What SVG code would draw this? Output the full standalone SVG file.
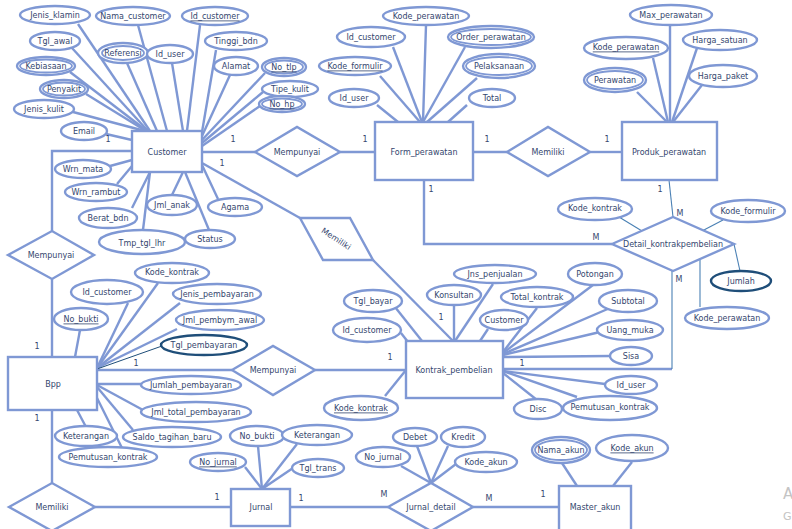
<svg xmlns="http://www.w3.org/2000/svg" width="792" height="529" viewBox="0 0 792 529">
<style>
.e{fill:#fff;stroke:#7f98d4;stroke-width:2.4}
.e2{fill:none;stroke:#7f98d4;stroke-width:1.8}
.k{fill:#fff;stroke:#1f4e79;stroke-width:2.4}
.t{font-family:"DejaVu Sans",Verdana,sans-serif;font-size:8px;fill:#34466e;text-anchor:middle;dominant-baseline:central}
.u{text-decoration:underline}
.n{font-family:"DejaVu Sans",Verdana,sans-serif;font-size:8px;fill:#34466e;text-anchor:middle;dominant-baseline:central}
.l{stroke:#7f98d4;stroke-width:2.4;fill:none}
.th{stroke:#4a80b4;stroke-width:1.1;fill:none}
.dk{stroke:#1f4e79;stroke-width:1;fill:none}
</style>
<rect width="792" height="529" fill="#fff"/>
<g id="connectors">
<g class="l">
<line x1="78" y1="24" x2="150" y2="131"/>
<line x1="72" y1="48" x2="148" y2="131"/>
<line x1="70" y1="72" x2="147" y2="131"/>
<line x1="86" y1="94" x2="146" y2="131"/>
<line x1="73" y1="112" x2="145" y2="131"/>
<line x1="106" y1="134" x2="132" y2="140"/>
<line x1="138" y1="25" x2="167" y2="131"/>
<line x1="127" y1="63" x2="157" y2="131"/>
<line x1="172" y1="63" x2="183" y2="131"/>
<line x1="200" y1="25" x2="187" y2="131"/>
<line x1="216" y1="50" x2="202" y2="132"/>
<line x1="230" y1="75" x2="202" y2="136"/>
<line x1="265" y1="73" x2="202" y2="140"/>
<line x1="263" y1="92" x2="202" y2="143"/>
<line x1="260" y1="106" x2="202" y2="146"/>
<line x1="110" y1="166" x2="132" y2="160"/>
<line x1="117" y1="184" x2="132" y2="166"/>
<line x1="132" y1="208" x2="150" y2="172"/>
<line x1="143" y1="230" x2="150" y2="172"/>
<line x1="172" y1="195" x2="183" y2="172"/>
<line x1="209" y1="230" x2="185" y2="172"/>
<line x1="218" y1="199" x2="202" y2="165"/>
<line x1="202" y1="152" x2="255" y2="152"/>
<line x1="340" y1="152" x2="375" y2="152"/>
<line x1="202" y1="163" x2="300" y2="218"/>
<line x1="373" y1="260" x2="453" y2="341"/>
<polyline points="132,151 52,151 52,231"/>
<line x1="52" y1="279" x2="52" y2="357"/>
<line x1="426" y1="25" x2="423" y2="122"/>
<line x1="393" y1="47" x2="422" y2="122"/>
<line x1="380" y1="76" x2="420" y2="122"/>
<line x1="377" y1="105" x2="398" y2="122"/>
<line x1="465" y1="47" x2="423" y2="122"/>
<line x1="477" y1="78" x2="427" y2="122"/>
<line x1="467" y1="105" x2="448" y2="122"/>
<line x1="473" y1="152" x2="507" y2="152"/>
<line x1="590" y1="152" x2="622" y2="152"/>
<polyline points="424,180 424,244 612,244"/>
<line x1="670" y1="25" x2="670" y2="122"/>
<line x1="653" y1="58" x2="668" y2="122"/>
<line x1="697" y1="48" x2="672" y2="122"/>
<line x1="637" y1="92" x2="667" y2="122"/>
<line x1="702" y1="85" x2="673" y2="122"/>
<line x1="503" y1="369" x2="672" y2="369"/>
<line x1="493" y1="284" x2="455" y2="341"/>
<line x1="454" y1="305" x2="454" y2="341"/>
<line x1="537" y1="308" x2="503" y2="352"/>
<line x1="488" y1="329" x2="480" y2="341"/>
<line x1="593" y1="285" x2="503" y2="353"/>
<line x1="610" y1="308" x2="503" y2="354"/>
<line x1="600" y1="332" x2="503" y2="355"/>
<line x1="610" y1="356" x2="503" y2="357"/>
<line x1="605" y1="384" x2="503" y2="371"/>
<line x1="577" y1="397" x2="503" y2="371"/>
<line x1="537" y1="400" x2="503" y2="373"/>
<line x1="395" y1="307" x2="422" y2="341"/>
<line x1="401" y1="333" x2="408" y2="342"/>
<line x1="385" y1="396" x2="406" y2="370"/>
<line x1="315" y1="370" x2="406" y2="370"/>
<line x1="97" y1="370" x2="232" y2="370"/>
<line x1="158" y1="283" x2="97" y2="368"/>
<line x1="128" y1="303" x2="97" y2="368"/>
<line x1="80" y1="330" x2="75" y2="357"/>
<line x1="180" y1="303" x2="97" y2="368"/>
<line x1="177" y1="329" x2="97" y2="368"/>
<line x1="97" y1="384" x2="141" y2="384"/>
<line x1="97" y1="385" x2="143" y2="410"/>
<line x1="97" y1="387" x2="133" y2="430"/>
<line x1="97" y1="398" x2="122" y2="448"/>
<line x1="77" y1="410" x2="86" y2="427"/>
<line x1="52" y1="410" x2="52" y2="483"/>
<line x1="95" y1="507" x2="231" y2="507"/>
<line x1="258" y1="446" x2="262" y2="489"/>
<line x1="245" y1="467" x2="262" y2="489"/>
<line x1="297" y1="444" x2="262" y2="489"/>
<line x1="293" y1="468" x2="262" y2="489"/>
<line x1="290" y1="507" x2="388" y2="507"/>
<line x1="417" y1="446" x2="431" y2="483"/>
<line x1="448" y1="446" x2="431" y2="483"/>
<line x1="401" y1="466" x2="431" y2="483"/>
<line x1="456" y1="464" x2="431" y2="483"/>
<line x1="473" y1="507" x2="559" y2="507"/>
<line x1="562" y1="463" x2="577" y2="486"/>
<line x1="632" y1="462" x2="613" y2="486"/>
</g>
<g class="th">
<line x1="669" y1="180" x2="673" y2="217"/>
<line x1="619" y1="217" x2="642" y2="231"/>
<line x1="723" y1="220" x2="702" y2="231"/>
<line x1="734" y1="244" x2="740" y2="271"/>
<line x1="700" y1="257" x2="700" y2="307"/>
<line x1="672" y1="271" x2="672" y2="369"/>
</g>
<line class="dk" x1="162" y1="346" x2="97" y2="369"/>
<g class="n">
<text x="108" y="139">1</text>
<text x="233" y="139">1</text>
<text x="222" y="163">1</text>
<text x="365" y="139">1</text>
<text x="487" y="139">1</text>
<text x="607" y="139">1</text>
<text x="660" y="189">1</text>
<text x="680" y="213">M</text>
<text x="596" y="237">M</text>
<text x="431" y="189">1</text>
<text x="679" y="279">M</text>
<text x="522" y="363">1</text>
<text x="441" y="317">1</text>
<text x="390" y="357">1</text>
<text x="136" y="363">1</text>
<text x="37" y="346">1</text>
<text x="37" y="418">1</text>
<text x="217" y="497">1</text>
<text x="301" y="498">1</text>
<text x="384" y="494">M</text>
<text x="489" y="498">M</text>
<text x="543" y="494">1</text>
</g>
</g>

<g id="customer"><rect class="e" x="132" y="131" width="70" height="41"/><text class="t" x="167" y="152">Customer</text></g>
<g id="form_perawatan"><rect class="e" x="375" y="122" width="98" height="58"/><text class="t" x="424" y="152">Form_perawatan</text></g>
<g id="produk_perawatan"><rect class="e" x="622" y="122" width="95" height="58"/><text class="t" x="669" y="152">Produk_perawatan</text></g>
<g id="kontrak_pembelian"><rect class="e" x="406" y="341" width="97" height="57"/><text class="t" x="454" y="370">Kontrak_pembelian</text></g>
<g id="bpp"><rect class="e" x="8" y="357" width="89" height="53"/><text class="t" x="53" y="384">Bpp</text></g>
<g id="jurnal"><rect class="e" x="231" y="489" width="59" height="37"/><text class="t" x="261" y="507">Jurnal</text></g>
<g id="master_akun"><rect class="e" x="559" y="486" width="72" height="50"/><text class="t" x="595" y="507">Master_akun</text></g>

<g id="rel_mempunyai_1"><polygon class="e" points="255,152 297,127 340,152 297,176"/><text class="t" x="297" y="152">Mempunyai</text></g>
<g id="rel_mempunyai_2"><polygon class="e" points="8,255 52,231 94,255 52,279"/><text class="t" x="51" y="255">Mempunyai</text></g>
<g id="rel_memiliki_1"><polygon class="e" points="507,152 548,127 590,152 548,176"/><text class="t" x="548" y="152">Memiliki</text></g>
<g id="rel_memiliki_2"><polygon class="e" points="300,218 350,218 373,260 323,260"/><text class="t" x="336" y="239" transform="rotate(33 336 239)">Memiliki</text></g>
<g id="rel_detail_kontrakpembelian"><polygon class="e" points="612,244 673,217 734,244 673,271"/><text class="t" x="673" y="244">Detail_kontrakpembelian</text></g>
<g id="rel_mempunyai_3"><polygon class="e" points="232,370 273,346 315,370 273,395"/><text class="t" x="273" y="370">Mempunyai</text></g>
<g id="rel_memiliki_3"><polygon class="e" points="9,507 52,483 95,507 52,531"/><text class="t" x="52" y="507">Memiliki</text></g>
<g id="rel_jurnal_detail"><polygon class="e" points="388,507 431,483 473,507 431,531"/><text class="t" x="431" y="507">Jurnal_detail</text></g>

<g id="attr_customer">
<g id="c_jenis_klamin"><ellipse class="e" cx="55" cy="15" rx="35" ry="9"/><text class="t" x="55" y="15">Jenis_klamin</text></g>
<g id="c_nama_customer"><ellipse class="e" cx="133" cy="16" rx="37" ry="9"/><text class="t" x="133" y="16">Nama_customer</text></g>
<g id="c_id_customer"><ellipse class="e" cx="215" cy="16" rx="33" ry="9"/><text class="t u" x="215" y="16">Id_customer</text></g>
<g id="c_tgl_awal"><ellipse class="e" cx="55" cy="41" rx="25" ry="9"/><text class="t" x="55" y="41">Tgl_awal</text></g>
<g id="c_referensi"><ellipse class="e" cx="123" cy="53" rx="25" ry="10"/><ellipse class="e2" cx="123" cy="53" rx="21" ry="7"/><text class="t" x="123" y="53">Referensi</text></g>
<g id="c_id_user"><ellipse class="e" cx="170" cy="54" rx="23" ry="9"/><text class="t" x="170" y="54">Id_user</text></g>
<g id="c_tinggi_bdn"><ellipse class="e" cx="236" cy="41" rx="31" ry="9"/><text class="t" x="236" y="41">Tinggi_bdn</text></g>
<g id="c_kebiasaan"><ellipse class="e" cx="46" cy="66" rx="29" ry="9"/><ellipse class="e2" cx="46" cy="66" rx="26" ry="6.5"/><text class="t" x="46" y="66">Kebiasaan</text></g>
<g id="c_alamat"><ellipse class="e" cx="236" cy="66" rx="22" ry="9"/><text class="t" x="236" y="66">Alamat</text></g>
<g id="c_no_tlp"><ellipse class="e" cx="284" cy="67" rx="22" ry="9"/><ellipse class="e2" cx="284" cy="67" rx="19" ry="6.5"/><text class="t u" x="284" y="67">No_tlp</text></g>
<g id="c_penyakit"><ellipse class="e" cx="64" cy="89" rx="24" ry="9"/><ellipse class="e2" cx="64" cy="89" rx="21" ry="6.5"/><text class="t" x="64" y="89">Penyakit</text></g>
<g id="c_tipe_kulit"><ellipse class="e" cx="290" cy="89" rx="28" ry="8"/><text class="t" x="290" y="89">Tipe_kulit</text></g>
<g id="c_no_hp"><ellipse class="e" cx="282" cy="104" rx="23" ry="8"/><ellipse class="e2" cx="282" cy="104" rx="20" ry="5.5"/><text class="t u" x="282" y="104">No_hp</text></g>
<g id="c_jenis_kulit"><ellipse class="e" cx="44" cy="109" rx="30" ry="9"/><text class="t" x="44" y="109">Jenis_kulit</text></g>
<g id="c_email"><ellipse class="e" cx="84" cy="131" rx="23" ry="9"/><text class="t" x="84" y="131">Email</text></g>
<g id="c_wrn_mata"><ellipse class="e" cx="83" cy="169" rx="28" ry="9"/><text class="t" x="83" y="169">Wrn_mata</text></g>
<g id="c_wrn_rambut"><ellipse class="e" cx="96" cy="192" rx="31" ry="9"/><text class="t" x="96" y="192">Wrn_rambut</text></g>
<g id="c_jml_anak"><ellipse class="e" cx="172" cy="205" rx="25" ry="10"/><text class="t" x="172" y="205">Jml_anak</text></g>
<g id="c_agama"><ellipse class="e" cx="235" cy="207" rx="27" ry="9"/><text class="t" x="235" y="207">Agama</text></g>
<g id="c_berat_bdn"><ellipse class="e" cx="108" cy="218" rx="29" ry="10"/><text class="t" x="108" y="218">Berat_bdn</text></g>
<g id="c_tmp_tgl_lhr"><ellipse class="e" cx="142" cy="242" rx="43" ry="12"/><text class="t" x="142" y="243">Tmp_tgl_lhr</text></g>
<g id="c_status"><ellipse class="e" cx="210" cy="239" rx="25" ry="9"/><text class="t" x="210" y="239">Status</text></g>
</g>

<g id="attr_form">
<g id="f_kode_perawatan"><ellipse class="e" cx="426" cy="16" rx="43" ry="9"/><text class="t" x="426" y="16">Kode_perawatan</text></g>
<g id="f_id_customer"><ellipse class="e" cx="371" cy="37" rx="34" ry="10"/><text class="t" x="371" y="37">Id_customer</text></g>
<g id="f_order_perawatan"><ellipse class="e" cx="491" cy="37" rx="43" ry="11"/><ellipse class="e2" cx="491" cy="37" rx="40" ry="8"/><text class="t" x="491" y="37">Order_perawatan</text></g>
<g id="f_kode_formulir"><ellipse class="e" cx="355" cy="66" rx="36" ry="9"/><text class="t u" x="355" y="66">Kode_formulir</text></g>
<g id="f_pelaksanaan"><ellipse class="e" cx="499" cy="66" rx="36" ry="12"/><ellipse class="e2" cx="499" cy="66" rx="33" ry="9"/><text class="t" x="499" y="66">Pelaksanaan</text></g>
<g id="f_id_user"><ellipse class="e" cx="354" cy="98" rx="25" ry="9"/><text class="t" x="354" y="98">Id_user</text></g>
<g id="f_total"><ellipse class="e" cx="492" cy="98" rx="23" ry="9"/><text class="t" x="492" y="98">Total</text></g>
</g>

<g id="attr_produk">
<g id="p_max_perawatan"><ellipse class="e" cx="671" cy="15" rx="41" ry="10"/><text class="t" x="671" y="15">Max_perawatan</text></g>
<g id="p_kode_perawatan"><ellipse class="e" cx="626" cy="48" rx="42" ry="11"/><text class="t u" x="626" y="47">Kode_perawatan</text></g>
<g id="p_harga_satuan"><ellipse class="e" cx="720" cy="40" rx="37" ry="10"/><text class="t" x="720" y="40">Harga_satuan</text></g>
<g id="p_perawatan"><ellipse class="e" cx="615" cy="80" rx="31" ry="12"/><ellipse class="e2" cx="615" cy="80" rx="28" ry="9"/><text class="t" x="615" y="80">Perawatan</text></g>
<g id="p_harga_paket"><ellipse class="e" cx="723" cy="76" rx="34" ry="11"/><text class="t" x="723" y="76">Harga_paket</text></g>
</g>

<g id="attr_detail">
<g id="d_kode_kontrak"><ellipse class="e" cx="595" cy="209" rx="37" ry="11"/><text class="t" x="595" y="208">Kode_kontrak</text></g>
<g id="d_kode_formulir"><ellipse class="e" cx="748" cy="211" rx="37" ry="11"/><text class="t" x="748" y="211">Kode_formulir</text></g>
<g id="d_jumlah"><ellipse class="k" cx="741" cy="281" rx="30" ry="10"/><text class="t" x="741" y="281">Jumlah</text></g>
<g id="d_kode_perawatan"><ellipse class="e" cx="727" cy="318" rx="42" ry="11"/><text class="t" x="727" y="318">Kode_perawatan</text></g>
</g>

<g id="attr_kontrak">
<g id="k_jns_penjualan"><ellipse class="e" cx="495" cy="274" rx="41" ry="9"/><text class="t" x="495" y="274">Jns_penjualan</text></g>
<g id="k_konsultan"><ellipse class="e" cx="454" cy="295" rx="27" ry="10"/><text class="t" x="454" y="295">Konsultan</text></g>
<g id="k_potongan"><ellipse class="e" cx="595" cy="274" rx="27" ry="11"/><text class="t" x="595" y="274">Potongan</text></g>
<g id="k_total_kontrak"><ellipse class="e" cx="537" cy="297" rx="36" ry="10"/><text class="t" x="537" y="297">Total_kontrak</text></g>
<g id="k_subtotal"><ellipse class="e" cx="628" cy="301" rx="29" ry="11"/><text class="t" x="628" y="301">Subtotal</text></g>
<g id="k_customer"><ellipse class="e" cx="504" cy="320" rx="24" ry="10"/><text class="t" x="504" y="320">Customer</text></g>
<g id="k_uang_muka"><ellipse class="e" cx="630" cy="330" rx="33" ry="10"/><text class="t" x="630" y="330">Uang_muka</text></g>
<g id="k_sisa"><ellipse class="e" cx="631" cy="356" rx="21" ry="9"/><text class="t" x="631" y="356">Sisa</text></g>
<g id="k_id_user"><ellipse class="e" cx="631" cy="385" rx="26" ry="9"/><text class="t" x="631" y="385">Id_user</text></g>
<g id="k_disc"><ellipse class="e" cx="538" cy="409" rx="24" ry="10"/><text class="t" x="538" y="409">Disc</text></g>
<g id="k_pemutusan_kontrak"><ellipse class="e" cx="610" cy="408" rx="47" ry="12"/><text class="t" x="610" y="407">Pemutusan_kontrak</text></g>
<g id="k_tgl_bayar"><ellipse class="e" cx="373" cy="301" rx="29" ry="11"/><text class="t" x="373" y="301">Tgl_bayar</text></g>
<g id="k_id_customer"><ellipse class="e" cx="367" cy="330" rx="34" ry="12"/><text class="t" x="367" y="330">Id_customer</text></g>
<g id="k_kode_kontrak"><ellipse class="e" cx="361" cy="408" rx="37" ry="12"/><text class="t u" x="361" y="408">Kode_kontrak</text></g>
</g>

<g id="attr_bpp">
<g id="b_kode_kontrak"><ellipse class="e" cx="172" cy="273" rx="37" ry="10"/><text class="t" x="172" y="272">Kode_kontrak</text></g>
<g id="b_id_customer"><ellipse class="e" cx="107" cy="292" rx="36" ry="12"/><text class="t" x="107" y="292">Id_customer</text></g>
<g id="b_jenis_pembayaran"><ellipse class="e" cx="217" cy="294" rx="44" ry="10"/><text class="t" x="217" y="294">Jenis_pembayaran</text></g>
<g id="b_no_bukti"><ellipse class="e" cx="81" cy="319" rx="27" ry="11"/><text class="t u" x="81" y="319">No_bukti</text></g>
<g id="b_jml_pembym_awal"><ellipse class="e" cx="220" cy="320" rx="44" ry="10"/><text class="t" x="220" y="320">Jml_pembym_awal</text></g>
<g id="b_tgl_pembayaran"><ellipse class="k" cx="204" cy="345" rx="43" ry="10"/><text class="t" x="204" y="345">Tgl_pembayaran</text></g>
<g id="b_jumlah_pembayaran"><ellipse class="e" cx="191" cy="385" rx="50" ry="9"/><text class="t" x="191" y="385">Jumlah_pembayaran</text></g>
<g id="b_jml_total_pembayaran"><ellipse class="e" cx="196" cy="412" rx="55" ry="10"/><text class="t" x="196" y="412">Jml_total_pembayaran</text></g>
<g id="b_keterangan"><ellipse class="e" cx="86" cy="436" rx="31" ry="10"/><text class="t" x="86" y="436">Keterangan</text></g>
<g id="b_saldo_tagihan_baru"><ellipse class="e" cx="172" cy="437" rx="49" ry="10"/><text class="t" x="172" y="437">Saldo_tagihan_baru</text></g>
<g id="b_pemutusan_kontrak"><ellipse class="e" cx="108" cy="457" rx="49" ry="10"/><text class="t" x="108" y="457">Pemutusan_kontrak</text></g>
</g>

<g id="attr_jurnal">
<g id="j_no_bukti"><ellipse class="e" cx="257" cy="436" rx="27" ry="10"/><text class="t" x="257" y="436">No_bukti</text></g>
<g id="j_keterangan"><ellipse class="e" cx="317" cy="435" rx="35" ry="10"/><text class="t" x="317" y="435">Keterangan</text></g>
<g id="j_no_jurnal"><ellipse class="e" cx="218" cy="462" rx="28" ry="9"/><text class="t u" x="218" y="462">No_jurnal</text></g>
<g id="j_tgl_trans"><ellipse class="e" cx="318" cy="468" rx="26" ry="9"/><text class="t" x="318" y="468">Tgl_trans</text></g>
</g>

<g id="attr_jurnal_detail">
<g id="jd_debet"><ellipse class="e" cx="415" cy="437" rx="22" ry="9"/><text class="t" x="415" y="437">Debet</text></g>
<g id="jd_kredit"><ellipse class="e" cx="463" cy="437" rx="22" ry="10"/><text class="t" x="463" y="437">Kredit</text></g>
<g id="jd_no_jurnal"><ellipse class="e" cx="383" cy="457" rx="27" ry="10"/><text class="t" x="383" y="457">No_jurnal</text></g>
<g id="jd_kode_akun"><ellipse class="e" cx="486" cy="462" rx="31" ry="10"/><text class="t" x="486" y="462">Kode_akun</text></g>
</g>

<g id="attr_master_akun">
<g id="m_nama_akun"><ellipse class="e" cx="561" cy="450" rx="29" ry="13"/><ellipse class="e2" cx="561" cy="450" rx="26" ry="10"/><text class="t" x="561" y="450">Nama_akun</text></g>
<g id="m_kode_akun"><ellipse class="e" cx="632" cy="448" rx="36" ry="13"/><text class="t u" x="632" y="448">Kode_akun</text></g>
</g>

<text x="783" y="499" font-family="DejaVu Sans,sans-serif" font-size="15" fill="#c4c4c4">A</text>
<text x="783" y="520" font-family="DejaVu Sans,sans-serif" font-size="11" fill="#c4c4c4">G</text>
</svg>
